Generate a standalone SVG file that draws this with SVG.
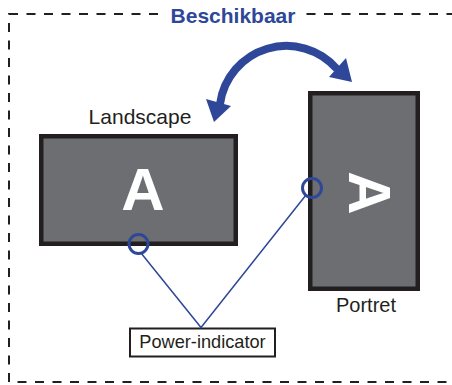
<svg xmlns="http://www.w3.org/2000/svg" width="452" height="385" viewBox="0 0 452 385">
<style>
.frame{fill:none;stroke:#231f20;stroke-width:2;stroke-dasharray:9 8.5}
.screen{fill:#6d6e72;stroke:#231f20;stroke-width:4.5}
.big{font-family:"Liberation Sans",Arial,sans-serif;font-weight:bold;font-size:60px;fill:#fff;text-anchor:middle}
.lbl{font-family:"Liberation Sans",Arial,sans-serif;font-size:20px;fill:#231f20;text-anchor:middle}
.ind{fill:none;stroke:#2e4799;stroke-width:3}
.conn{fill:none;stroke:#2e4799;stroke-width:1.5}
.blue{fill:#2e4799}
</style>
<rect class="frame" x="9" y="14" width="446" height="368"/>
<rect x="158" y="2" width="148" height="26" fill="#fff"/>
<text x="233" y="23" font-family="Liberation Sans,Arial,sans-serif" font-weight="bold" font-size="21" fill="#2e4799" text-anchor="middle">Beschikbaar</text>
<g id="rotate-arrow">
<path d="M220,104 A67,67 0 0 1 337,69" fill="none" stroke="#2e4799" stroke-width="8"/>
<polygon class="blue" points="214,122 206,99 231,106"/>
<polygon class="blue" points="352,82 329,77 346,58"/>
</g>
<g id="landscape">
<rect class="screen" x="41.25" y="136.25" width="194.5" height="107.5"/>
<text class="big" x="143" y="210">A</text>
<text class="lbl" x="140" y="124" style="font-size:21px">Landscape</text>
<circle class="ind" cx="138.5" cy="244" r="9.5"/>
</g>
<g id="portrait">
<rect class="screen" x="310.25" y="93.25" width="107.5" height="195.5"/>
<text class="big" transform="translate(370,193) rotate(90)" x="0" y="21.5">A</text>
<text class="lbl" x="366" y="312">Portret</text>
<circle class="ind" cx="312" cy="188" r="9.5"/>
</g>
<g id="power-indicator">
<rect x="130" y="328.5" width="145" height="28" fill="#fff" stroke="#231f20" stroke-width="2"/>
<text x="202.5" y="348" font-family="Liberation Sans,Arial,sans-serif" font-size="18.2" fill="#231f20" text-anchor="middle">Power-indicator</text>
</g>
<g id="connectors">
<polyline class="conn" points="141,253 201,327.5 306,195"/>
</g>
</svg>
